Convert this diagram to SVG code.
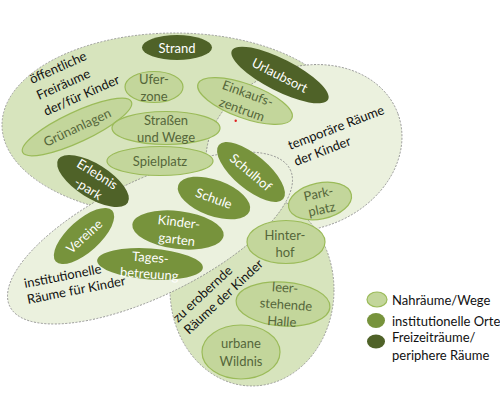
<svg xmlns="http://www.w3.org/2000/svg" width="500" height="405" viewBox="0 0 500 405">
<style>
text{font-family:Lato,"Open Sans",sans-serif;font-size:13px;text-anchor:middle;dominant-baseline:central}
.l ellipse{fill:#c3d69b;stroke:#9bbb59;stroke-width:1.2}
.l text{fill:#55663a}
.m ellipse{fill:#77933c}
.d ellipse{fill:#4f6228}
.m text,.d text{fill:#ffffff}
.reg{stroke:#8a8a8a;stroke-width:0.8;stroke-dasharray:2 1.5}
.rl text{fill:#111;font-size:13px;text-anchor:start;dominant-baseline:auto}
.lg text{fill:#111;font-size:13px;text-anchor:start;dominant-baseline:auto}
</style>
<rect width="500" height="405" fill="#ffffff"/>
<g id="regions">
<ellipse id="oeffentliche" class="reg" cx="175" cy="125" rx="173" ry="92" fill="#d7e4bd"/>
<ellipse id="temporaere" class="reg" cx="0" cy="0" rx="100" ry="81" fill="#ebf1de" transform="translate(304,148) rotate(-20)"/>
<ellipse id="zu-erobernde" class="reg" cx="252" cy="290" rx="82" ry="96" fill="#d7e4bd"/>
<ellipse id="institutionelle" class="reg" cx="0" cy="0" rx="156" ry="58" fill="#ebf1de" transform="translate(150,238) rotate(-26)"/>
<circle cx="235.7" cy="120.7" r="1.2" fill="#e02020"/>
</g>
<g id="region-labels" class="rl">
<text transform="translate(32,84) rotate(-24)">öffentliche</text>
<text transform="translate(39,100) rotate(-24)">Freiräume</text>
<text transform="translate(46,116) rotate(-24)">der/für Kinder</text>
<text transform="translate(290,150) rotate(-21)">temporäre Räume</text>
<text transform="translate(296,166) rotate(-21)">der Kinder</text>
<text transform="translate(25,288) rotate(-11)">institutionelle</text>
<text transform="translate(28,304) rotate(-11)">Räume für Kinder</text>
<text transform="translate(178,323) rotate(-43)">zu erobernde</text>
<text transform="translate(189,335) rotate(-43)">Räume der Kinder</text>
</g>
<g id="strand" class="d"><ellipse cx="177" cy="47.5" rx="35" ry="12.5"/><text x="177" y="47.5">Strand</text></g>
<g id="urlaubsort" class="d" transform="translate(280,75) rotate(27)"><ellipse rx="54" ry="16"/><text>Urlaubsort</text></g>
<g id="uferzone" class="l"><ellipse cx="154" cy="87" rx="29" ry="15.5"/><text x="154" y="79">Ufer-</text><text x="154" y="96">zone</text></g>
<g id="einkaufszentrum" class="l" transform="translate(245,101) rotate(20)"><ellipse rx="50" ry="17"/><text y="-8.5">Einkaufs-</text><text y="8.5">zentrum</text></g>
<g id="gruenanlagen" class="l" transform="translate(77,127) rotate(-25)"><ellipse rx="60" ry="15"/><text>Grünanlagen</text></g>
<g id="strassen-und-wege" class="l"><ellipse cx="166" cy="128" rx="54" ry="16.5"/><text x="166" y="120">Straßen</text><text x="166" y="137">und Wege</text></g>
<g id="spielplatz" class="l"><ellipse cx="160" cy="161" rx="53" ry="14.5"/><text x="160" y="161">Spielplatz</text></g>
<g id="erlebnispark" class="d" transform="translate(93,181) rotate(32)"><ellipse rx="41" ry="17"/><text y="-8.5">Erlebnis</text><text y="8.5">-park</text></g>
<g id="schulhof" class="m" transform="translate(251,172) rotate(40)"><ellipse rx="42" ry="17"/><text>Schulhof</text></g>
<g id="schule" class="m" transform="translate(214,198) rotate(20)"><ellipse rx="38" ry="18"/><text>Schule</text></g>
<g id="parkplatz" class="l" transform="translate(320,201) rotate(-12)"><ellipse rx="32" ry="18"/><text y="-8">Park-</text><text y="8">platz</text></g>
<g id="vereine" class="m" transform="translate(84,236) rotate(-42)"><ellipse rx="38" ry="16"/><text>Vereine</text></g>
<g id="kindergarten" class="m" transform="translate(178,230) rotate(7)"><ellipse rx="46" ry="19"/><text y="-8.5">Kinder-</text><text y="9">garten</text></g>
<g id="tagesbetreuung" class="m" transform="translate(150,264) rotate(4)"><ellipse rx="53" ry="15.5"/><text y="-7">Tages-</text><text y="9.5">betreuung</text></g>
<g id="hinterhof" class="l"><ellipse cx="286" cy="242" rx="39" ry="21.5"/><text x="285" y="235">Hinter-</text><text x="285" y="252">hof</text></g>
<g id="leerstehende-halle" class="l" transform="translate(283,304) rotate(4)"><ellipse rx="47" ry="22"/><text x="1" y="-17">leer-</text><text x="3" y="0">stehende</text><text x="0" y="17">Halle</text></g>
<g id="urbane-wildnis" class="l"><ellipse cx="241" cy="352" rx="39" ry="27"/><text x="241" y="343">urbane</text><text x="241" y="361">Wildnis</text></g>
<g id="legend" class="lg">
<g class="l"><ellipse cx="377" cy="299.5" rx="10" ry="7.5"/></g>
<text x="392" y="305">Nahräume/Wege</text>
<g class="m"><ellipse cx="376" cy="320.5" rx="9" ry="7.5"/></g>
<text x="392" y="325.5">institutionelle Orte</text>
<g class="d"><ellipse cx="376" cy="341.5" rx="9" ry="7"/></g>
<text x="392" y="342">Freizeiträume/</text>
<text x="392" y="360">periphere Räume</text>
</g>
</svg>
